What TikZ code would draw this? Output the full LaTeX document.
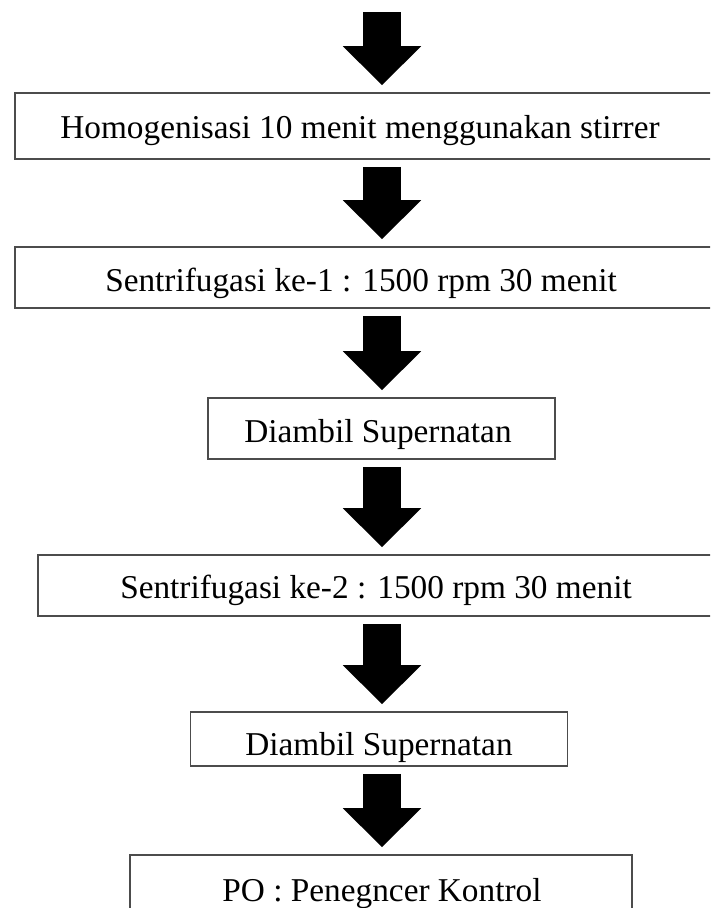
\documentclass[tikz,border=0pt]{standalone}
\usepackage{fontspec}
\setmainfont{Liberation Serif}
\usetikzlibrary{arrows.meta}

\begin{document}
\begin{tikzpicture}[x=1pt,y=-1pt,
	box/.style={draw=black!70,line width=1.6pt,inner sep=0pt},
	txt/.style={anchor=base,inner sep=0pt,font=\fontsize{33.3}{40}\selectfont},
	blockarrow/.style={line width=38pt,-{Triangle[width=76pt,length=39pt]},shorten <=7pt,shorten >=7pt}]
		\useasboundingbox (0,0) rectangle (710,908);
		\clip (0,0) rectangle (710,908);
		\coordinate(top) at (382,12);
		
		\node(b1) at (377.5,126)[box,minimum width=725,minimum height=66]{};
		\node(b2) at (377.5,277.5)[box,minimum width=725,minimum height=61]{};
		\node(b3) at (381.5,428.5)[box,minimum width=347,minimum height=61]{};
		\node(b4) at (389,585.5)[box,minimum width=702,minimum height=61]{};
		\node(b5) at (379,739)[box,minimum width=377,minimum height=54]{};
		\node(b6) at (381,897.5)[box,minimum width=502,minimum height=85]{};
		
		\node(t1) at (360,138)[txt]{Homogenisasi 10 menit menggunakan stirrer};
		\node(t2) at (361,291)[txt]{Sentrifugasi ke-1 : 1500 rpm 30 menit};
		\node(t3) at (378,442)[txt]{Diambil Supernatan};
		\node(t4) at (376,598)[txt]{Sentrifugasi ke-2 : 1500 rpm 30 menit};
		\node(t5) at (379,755)[txt]{Diambil Supernatan};
		\node(t6) at (382,901)[txt]{PO : Penegncer Kontrol};
		
		\draw[blockarrow,shorten <=0pt] (top) -- (top |- b1.north);
		\draw[blockarrow] (top |- b1.south) -- (top |- b2.north);
		\draw[blockarrow] (top |- b2.south) -- (top |- b3.north);
		\draw[blockarrow] (top |- b3.south) -- (top |- b4.north);
		\draw[blockarrow] (top |- b4.south) -- (top |- b5.north);
		\draw[blockarrow] (top |- b5.south) -- (top |- b6.north);
	\end{tikzpicture}
\end{document}
